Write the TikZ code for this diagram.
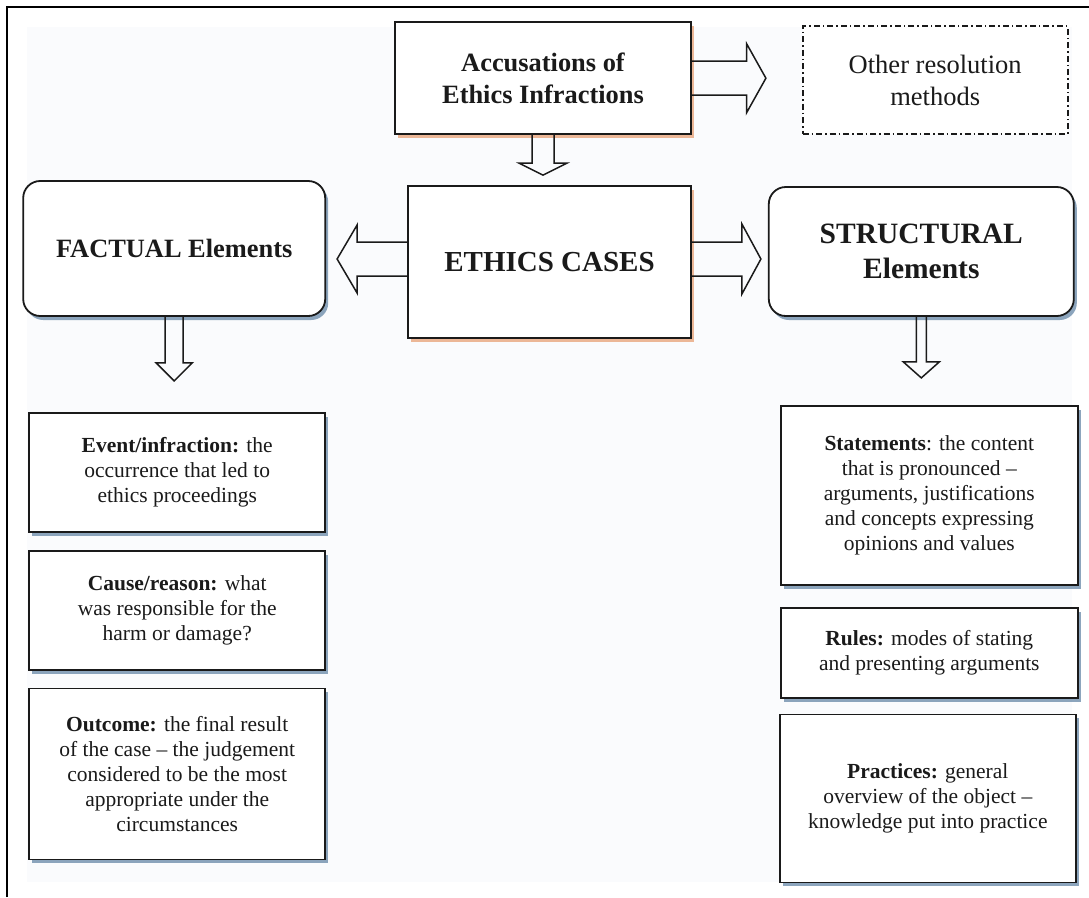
\documentclass[tikz,border=0pt]{standalone}
\usepackage{fontspec}
\setmainfont{Liberation Serif}
\usepackage{tikz}
\usetikzlibrary{shapes, arrows, positioning, shadows}
\usepackage{xcolor}

\definecolor{inkgray}{HTML}{1A1A1A}
\definecolor{shadowblue}{HTML}{7F9BB6}
\definecolor{shadoworange}{HTML}{EBB08C}
\definecolor{bgtint}{HTML}{FAFBFD}

% 空心箭头: 起点, 方向, 长度, 杆宽, 头宽, 头长
\newcommand{\hollowarrow}[6]{%
  \begin{scope}[shift={(#1)}, rotate=#2]
    \draw[blockarrow] (0,{#4/2}) -- ({#3-#6},{#4/2}) -- ({#3-#6},{#5/2})
      -- (#3,0) -- ({#3-#6},{-#5/2}) -- ({#3-#6},{-#4/2}) -- (0,{-#4/2});
  \end{scope}}

\begin{document}
\begin{tikzpicture}[
    x=1pt, y=1pt,
    plainbox/.style={rectangle, draw=inkgray, line width=1.8pt, fill=white, align=center, inner sep=0pt, text=inkgray},
    warmshadow/.style={drop shadow={shadow xshift=3pt, shadow yshift=-3.5pt, fill=shadoworange, opacity=0.9}},
    coolshadow/.style={drop shadow={shadow xshift=3pt, shadow yshift=-4pt, fill=shadowblue, opacity=0.9}},
    casebox/.style={plainbox, warmshadow},
    elembox/.style={plainbox, coolshadow, rounded corners=17pt},
    itembox/.style={plainbox, coolshadow, minimum width=296pt, font=\fontsize{21.5}{25}\selectfont},
    otherbox/.style={plainbox, line width=1.6pt, dash pattern=on 6pt off 3pt on 1.5pt off 3pt},
    blockarrow/.style={draw=inkgray, line width=1.5pt, line join=miter}
]
\useasboundingbox (0,0) rectangle (1089,-897);
\fill[bgtint] (27,-27) rectangle (1072,-882);
\draw[line width=2.6pt] (7,-897) -- (7,-7) -- (1089,-7);

% 主要节点
\node[casebox, minimum width=283pt, minimum height=152pt, font=\bfseries\fontsize{29}{35}\selectfont] (cases) at (549.5,-262) {ETHICS CASES};
\node[casebox, above=50pt of cases, xshift=-6.5pt, minimum width=296pt, minimum height=112pt, font=\bfseries\fontsize{26.4}{31.7}\selectfont] (accuse) {Accusations of\\Ethics Infractions};
\node[otherbox, right=110pt of accuse, yshift=-2pt, minimum width=265pt, minimum height=108pt, font=\fontsize{26.5}{32}\selectfont] (other) {Other resolution\\methods};
\node[elembox, left=81pt of cases, yshift=13.5pt, minimum width=302pt, minimum height=135pt, font=\bfseries\fontsize{26.4}{31.7}\selectfont] (factual) {FACTUAL Elements};
\node[elembox, right=76pt of cases, yshift=10.5pt, minimum width=305pt, minimum height=129pt, font=\bfseries\fontsize{29.5}{35.7}\selectfont] (structural) {STRUCTURAL\\Elements};

% 事实要素
\node[itembox, below=95pt of factual, xshift=3pt, minimum height=119pt] (event) {\textbf{Event/infraction:} the\\occurrence that led to\\ethics proceedings};
\node[itembox, below=17pt of event, minimum height=119pt] (cause) {\textbf{Cause/reason:} what\\was responsible for the\\harm or damage?};
\node[itembox, below=17pt of cause, minimum height=171pt] (outcome) {\textbf{Outcome:} the final result\\of the case – the judgement\\considered to be the most\\appropriate under the\\circumstances};

% 结构要素
\node[itembox, below=88pt of structural, xshift=8pt, minimum width=297pt, minimum height=179pt] (statements) {\textbf{Statements}: the content\\that is pronounced –\\arguments, justifications\\and concepts expressing\\opinions and values};
\node[itembox, below=21pt of statements, minimum width=297pt, minimum height=90pt] (rules) {\textbf{Rules:} modes of stating\\and presenting arguments};
\node[itembox, below=15pt of rules, xshift=-1.5pt, minimum height=168pt] (practices) {\textbf{Practices:} general\\overview of the object –\\knowledge put into practice};

% 空心箭头
\hollowarrow{accuse.east}{0}{74}{34}{69}{19.3}
\hollowarrow{accuse.south}{-90}{40}{22}{48}{12}
\hollowarrow{[yshift=3pt]cases.west}{180}{70}{34}{68}{20}
\hollowarrow{[yshift=3pt]cases.east}{0}{69}{34}{70}{19}
\hollowarrow{factual.south}{-90}{64}{18}{36}{18}
\hollowarrow{structural.south}{-90}{61}{10}{36}{16}

\end{tikzpicture}
\end{document}
